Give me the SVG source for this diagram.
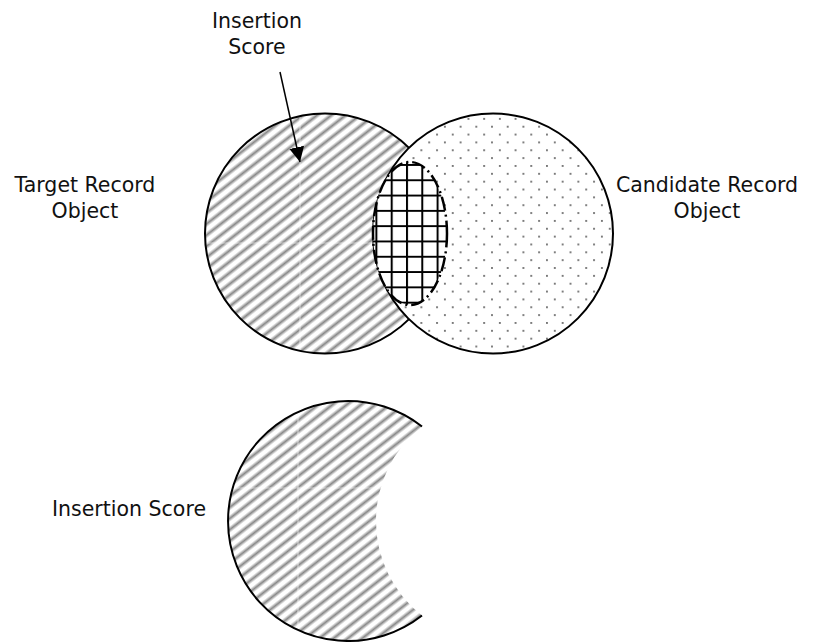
<svg xmlns="http://www.w3.org/2000/svg" width="814" height="642" viewBox="0 0 814 642">
<defs>
<style>
 text { font-family: "DejaVu Sans", "Liberation Sans", sans-serif; font-size: 20.5px; fill: #111; text-anchor: middle; }
 .outline { fill: none; stroke: #000; stroke-width: 2; }
 .seam { stroke: #fff; stroke-width: 1.2; opacity: 0.5; }
 .connector { fill: none; stroke: #000; stroke-width: 1.5; }
</style>
<linearGradient id="stripeGrad" x1="0" y1="0" x2="1" y2="0">
 <stop offset="0" stop-color="#fff"/>
 <stop offset="0.17" stop-color="#fff"/>
 <stop offset="0.5" stop-color="#888"/>
 <stop offset="0.83" stop-color="#fff"/>
 <stop offset="1" stop-color="#fff"/>
</linearGradient>
<pattern id="hatch" patternUnits="userSpaceOnUse" width="8.8" height="20" patternTransform="rotate(52)">
 <rect width="8.8" height="20" fill="url(#stripeGrad)"/>
</pattern>
<pattern id="dots" patternUnits="userSpaceOnUse" x="441" y="122.8" width="15.7" height="15.7">
 <rect width="15.7" height="15.7" fill="#fff"/>
 <rect x="3" y="3" width="1.8" height="1.8" fill="#666"/>
 <rect x="10.85" y="10.85" width="1.8" height="1.8" fill="#666"/>
</pattern>
<pattern id="grid" patternUnits="userSpaceOnUse" x="390.7" y="164" width="15.3" height="15.3">
 <rect width="15.3" height="15.3" fill="#fff"/>
 <path d="M1,0V15.3M0,1H15.3" stroke="#000" stroke-width="2"/>
</pattern>
<marker id="arrow" markerUnits="userSpaceOnUse" markerWidth="16" markerHeight="16" refX="15" refY="7.5" orient="auto">
 <path d="M0,0L15,7.5L0,15Z" fill="#000"/>
</marker>
<clipPath id="clipLeft"><circle cx="325" cy="233.5" r="120"/></clipPath>
<clipPath id="clipCres"><path d="M422,426.5A120,120 0 1 0 422,615.5A120,120 0 0 1 422,426.5Z"/></clipPath>
</defs>

<g id="target-record">
 <circle cx="325" cy="233.5" r="120" fill="url(#hatch)"/>
 <g clip-path="url(#clipLeft)">
  <line class="seam" x1="300" y1="100" x2="300" y2="360"/>
  <line class="seam" x1="200" y1="243" x2="450" y2="243"/>
 </g>
 <circle cx="325" cy="233.5" r="120" class="outline"/>
</g>

<g id="candidate-record">
 <circle cx="493" cy="233.5" r="120" fill="url(#dots)" stroke="#000" stroke-width="2"/>
</g>

<g id="overlap">
 <ellipse cx="410" cy="233.5" rx="37" ry="71.5" fill="url(#grid)" stroke="#000" stroke-width="2.5" stroke-dasharray="14 4 2 4"/>
</g>

<g id="insertion-score-shape">
 <path d="M422,426.5A120,120 0 1 0 422,615.5A120,120 0 0 1 422,426.5Z" fill="url(#hatch)"/>
 <g clip-path="url(#clipCres)">
  <line class="seam" x1="298" y1="400" x2="298" y2="642"/>
  <line class="seam" x1="220" y1="488" x2="430" y2="488"/>
 </g>
 <path d="M422,426.5A120,120 0 1 0 422,615.5" class="outline"/>
</g>

<g id="labels">
 <text x="257" y="28">Insertion</text>
 <text x="257" y="54">Score</text>
 <text x="85" y="192">Target Record</text>
 <text x="85" y="218">Object</text>
 <text x="707" y="192">Candidate Record</text>
 <text x="707" y="218">Object</text>
 <text x="206" y="516" style="text-anchor:end">Insertion Score</text>
</g>

<g id="connectors">
 <line class="connector" x1="280" y1="72" x2="300" y2="162" marker-end="url(#arrow)"/>
</g>
</svg>
